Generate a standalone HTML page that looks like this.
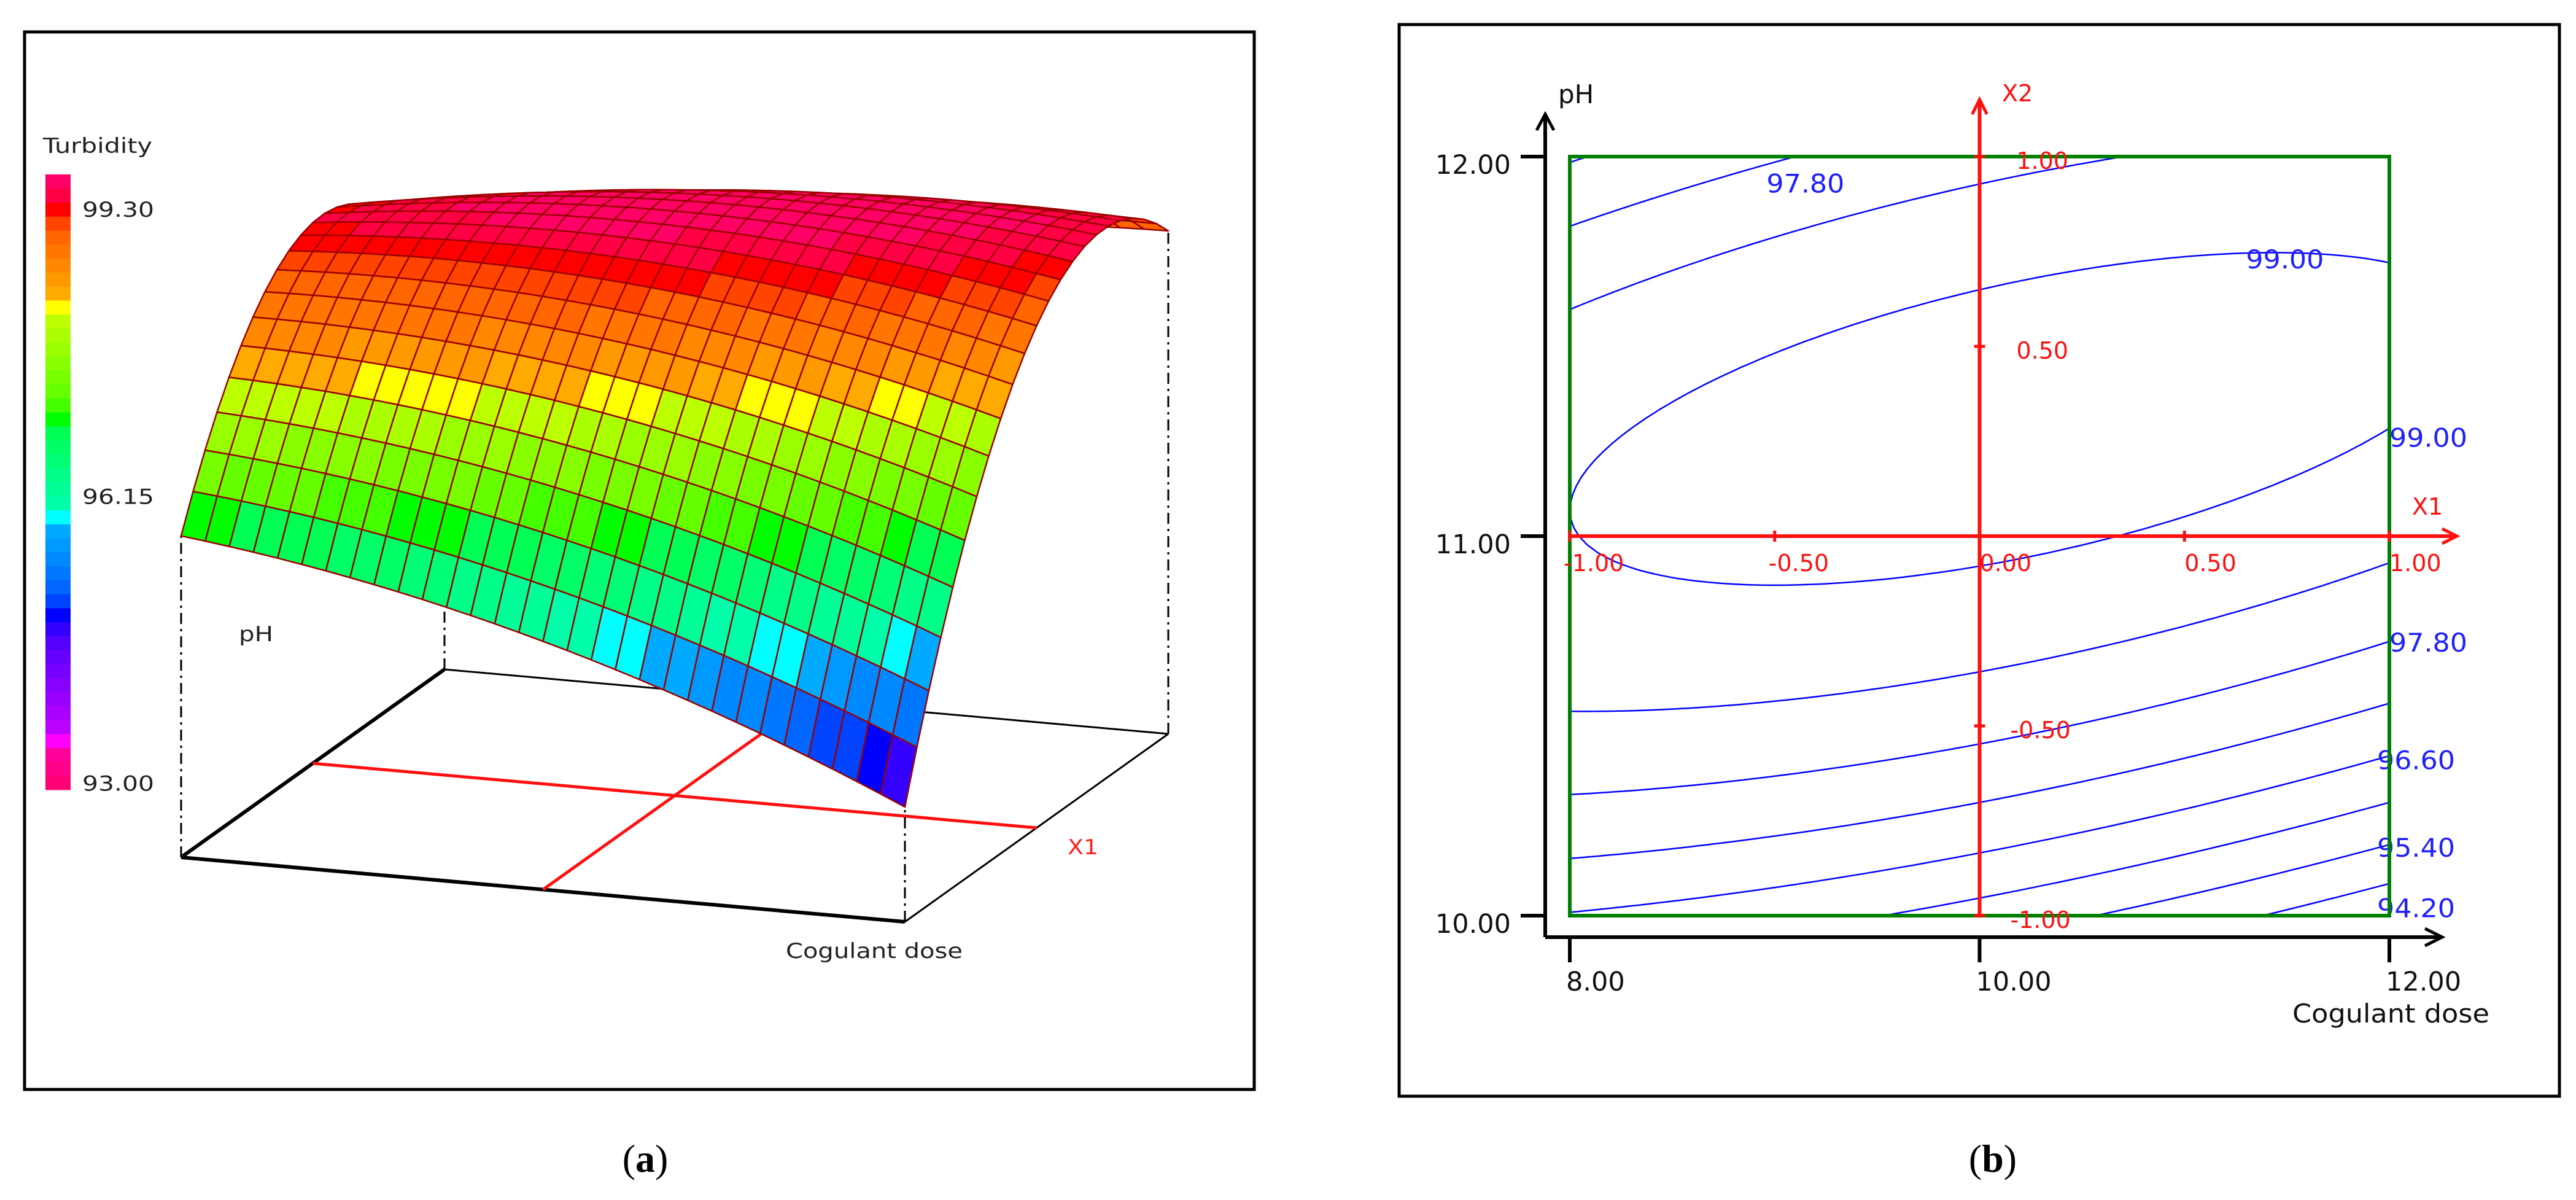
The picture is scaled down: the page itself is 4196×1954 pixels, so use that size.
<!DOCTYPE html>
<html><head><meta charset="utf-8"><style>
html,body{margin:0;padding:0;background:#fff;}
svg{display:block;}
text{font-family:"DejaVu Sans","Liberation Sans",sans-serif;}
</style></head>
<body>
<svg id="fig" width="4196" height="1954" viewBox="0 0 4196 1954" xmlns="http://www.w3.org/2000/svg">
<rect x="0" y="0" width="4196" height="1954" fill="#fff"/>
<g id="panelA">
<rect x="40" y="52" width="2003" height="1722" fill="none" stroke="#000" stroke-width="5"/>
<text x="70" y="249" font-size="34" textLength="178" lengthAdjust="spacingAndGlyphs" fill="#222">Turbidity</text>
<g id="cbar"></g>
<g id="cbarLabels"></g>
<g id="base"></g>
<g id="surf"></g>
<text x="389" y="1044" font-size="34" textLength="56" lengthAdjust="spacingAndGlyphs" fill="#222">pH</text>
<text x="1280" y="1560" font-size="34" textLength="288" lengthAdjust="spacingAndGlyphs" fill="#222">Cogulant dose</text>
<text x="1739" y="1391" font-size="34" textLength="50" lengthAdjust="spacingAndGlyphs" fill="#ff2020">X1</text>
</g>
<text x="1051" y="1908" font-size="64" text-anchor="middle" style="font-family:'Liberation Serif',serif">(<tspan font-weight="bold">a</tspan>)</text>

<g id="panelB">
<rect x="2279" y="40" width="1890" height="1745" fill="none" stroke="#000" stroke-width="5"/>
<g id="contours"></g>
<g id="axesB"></g>
</g>
<text x="3246" y="1908" font-size="64" text-anchor="middle" style="font-family:'Liberation Serif',serif">(<tspan font-weight="bold">b</tspan>)</text>
</svg>
<script>
// Fitted quadratic model: b0, b1, b2, b11, b22, b12 (coded X1=dose, X2=pH)
const modelCoefs = [99.11, -0.214, 1.22, -0.334, -2.14, 0.93];
// Colorbar palette, from low (93.00) to high (99.30+)
const palette = ["#ff0077","#ff0088","#ff0099","#ff00ff","#bb00ff","#aa00ff","#9900ff","#8800ff","#7700ff","#6600ff","#5500ff","#3300ff","#0000ff","#0044ff","#0066ff","#0077ff","#0088ff","#0099ff","#00aaff","#00ffff","#00ffaa","#00ff99","#00ff88","#00ff77","#00ff66","#00ff55","#00ff00","#44ff00","#66ff00","#77ff00","#88ff00","#99ff00","#aaff00","#bbff00","#ffff00","#ffaa00","#ff9900","#ff8800","#ff7700","#ff6600","#ff4400","#ff0000","#ff0044","#ff0066"];
const colorbarTicks = [99.30, 96.15, 93.00];
const contourLevels = [94.2, 94.8, 95.4, 96.0, 96.6, 97.2, 97.8, 98.4, 99.0];
const contourLabelText = ["97.80","99.00","99.00","97.80","96.60","95.40","94.20"];
const contourLabelX1 = [-0.52, 0.65, 1.0, 1.0, 0.97, 0.97, 0.97];
const contourLabelX2 = [0.93, 0.73, 0.26, -0.28, -0.59, -0.82, -0.98];
const doseTicks = [8, 10, 12];
const phTicks = [10, 11, 12];
const codedTicks = [-1, -0.5, 0, 0.5, 1];

const NS = "http://www.w3.org/2000/svg";
function mk(parent, tag, attrs, txt){const e=document.createElementNS(NS,tag);for(const k in attrs)e.setAttribute(k,attrs[k]);if(txt!==undefined)e.textContent=txt;parent.appendChild(e);return e;}
function Y(x1,x2){const b=modelCoefs;return b[0]+b[1]*x1+b[2]*x2+b[3]*x1*x1+b[4]*x2*x2+b[5]*x1*x2;}
const vMin=92.93, vMax=99.685;
const cellMax=99.30;
function colorOf(v){let i=Math.floor((v-vMin)/(cellMax-vMin)*palette.length);i=Math.max(0,Math.min(palette.length-1,i));return palette[i];}

// ---- colorbar ----
const cb=document.getElementById('cbar');
const cbTop=284, cbBot=1286, cbX=74, cbW=41;
function cbY(v){return cbBot-(v-vMin)/(vMax-vMin)*(cbBot-cbTop);}
palette.forEach((c,i)=>{
 const v0=vMin+i*(vMax-vMin)/palette.length, v1=vMin+(i+1)*(vMax-vMin)/palette.length;
 const r=mk(cb,'rect',{x:cbX,y:cbY(v1),width:cbW,height:cbY(v0)-cbY(v1)+0.5,fill:c});
 
 
});
const cbl=document.getElementById('cbarLabels');
colorbarTicks.forEach(t=>{
 const tx=mk(cbl,'text',{x:134,y:cbY(t)+12,'font-size':34,textLength:117,lengthAdjust:'spacingAndGlyphs',fill:'#222'},t.toFixed(2));
 
 
});

// ---- 3D surface ----
const A={x:295,y:1396},B={x:1474,y:1501},D={x:724,y:1090};
const C={x:B.x+D.x-A.x,y:B.y+D.y-A.y};
const kH=147, zBase=93;
function base(u,v){return {x:A.x+u*(B.x-A.x)+v*(D.x-A.x), y:A.y+u*(B.y-A.y)+v*(D.y-A.y)};}
function P(u,v){const b=base(u,v);return {x:b.x,y:b.y-(Y(2*u-1,2*v-1)-zBase)*kH};}
const bg=document.getElementById('base');
function line(g,p,q,attrs,name){const l=mk(g,'line',Object.assign({x1:p.x,y1:p.y,x2:q.x,y2:q.y},attrs));return l;}
line(bg,D,C,{stroke:'#000','stroke-width':3},'base-back-edge');
line(bg,B,C,{stroke:'#000','stroke-width':3},'base-right-edge');
line(bg,A,B,{stroke:'#000','stroke-width':6},'dose-axis');
line(bg,A,D,{stroke:'#000','stroke-width':6},'ph-axis');
line(bg,base(0,0.5),base(1,0.5),{stroke:'#ff1010','stroke-width':5},'x1-center-line');
line(bg,base(0.5,0),base(0.5,1),{stroke:'#ff1010','stroke-width':5},'x2-center-line');
const dash={stroke:'#000','stroke-width':3,'stroke-dasharray':'18 8 4 8'};
line(bg,A,P(0,0),dash,'corner-drop-line');
line(bg,B,P(1,0),dash,'corner-drop-line');
line(bg,C,P(1,1),dash,'corner-drop-line');
line(bg,D,P(0,1),dash,'corner-drop-line');

const sg=document.getElementById('surf');
const Nu=30, Nv=22;
for(let j=Nv-1;j>=0;j--){
 for(let i=0;i<Nu;i++){
  const u0=i/Nu,u1=(i+1)/Nu,v0=j/Nv,v1=(j+1)/Nv;
  const p=[P(u0,v0),P(u1,v0),P(u1,v1),P(u0,v1)];
  const val=Y(2*((u0+u1)/2)-1,2*((v0+v1)/2)-1);
  const poly=mk(sg,'polygon',{points:p.map(q=>q.x.toFixed(1)+','+q.y.toFixed(1)).join(' '),fill:colorOf(val),stroke:'#9a0000','stroke-width':2.5,'stroke-linejoin':'round'});
  
  
 }
}

// ---- contour plot ----
const gx0=2557,gx1=3892,gy0=255,gy1=1491;
function sx(x1){return gx0+(x1+1)/2*(gx1-gx0);}
function sy(x2){return gy1-(x2+1)/2*(gy1-gy0);}
const cg=document.getElementById('contours');
const N=90;
contourLevels.forEach(L=>{
 let d='';
 const val=(i,j)=>Y(-1+2*i/N,-1+2*j/N)-L;
 for(let i=0;i<N;i++){
  for(let j=0;j<N;j++){
   const c=[[i,j],[i+1,j],[i+1,j+1],[i,j+1]];
   const f=c.map(q=>val(q[0],q[1]));
   const pts=[];
   for(let e=0;e<4;e++){
    const a=f[e],b=f[(e+1)%4];
    if((a<0)!==(b<0)){const t=a/(a-b);const qa=c[e],qb=c[(e+1)%4];
     pts.push([qa[0]+t*(qb[0]-qa[0]),qa[1]+t*(qb[1]-qa[1])]);}
   }
   for(let k=0;k+1<pts.length;k+=2){
    const X=q=>sx(-1+2*q[0]/N).toFixed(1), Yp=q=>sy(-1+2*q[1]/N).toFixed(1);
    d+='M'+X(pts[k])+' '+Yp(pts[k])+'L'+X(pts[k+1])+' '+Yp(pts[k+1]);
   }
  }
 }
 const p=mk(cg,'path',{d:d,stroke:'#0000ff','stroke-width':2.5,fill:'none','stroke-linecap':'round'});
 
 
});
contourLabelText.forEach((t,i)=>{
 const tx=mk(cg,'text',{x:sx(contourLabelX1[i]),y:sy(contourLabelX2[i])+15,'font-size':42,textLength:127,lengthAdjust:'spacingAndGlyphs',fill:'#2020ff'},t);
 
 
});

const ag=document.getElementById('axesB');
const green=mk(ag,'rect',{x:gx0,y:gy0,width:gx1-gx0,height:gy1-gy0,fill:'none',stroke:'#008000','stroke-width':6});


const axX=2517, axY=1526;
line(ag,{x:axX,y:axY},{x:axX,y:190},{stroke:'#000','stroke-width':6},'y-axis');
line(ag,{x:axX,y:axY},{x:3975,y:axY},{stroke:'#000','stroke-width':6},'x-axis');
let ar=mk(ag,'polyline',{points:`${axX-14},212 ${axX},186 ${axX+14},212`,fill:'none',stroke:'#000','stroke-width':5});


ar=mk(ag,'polyline',{points:`3950,${axY-14} 3978,${axY} 3950,${axY+14}`,fill:'none',stroke:'#000','stroke-width':5});


function phY(p){return sy(p-11);}
function doseX(d){return sx((d-10)/2);}
phTicks.forEach(p=>{
 line(ag,{x:2477,y:phY(p)},{x:axX,y:phY(p)},{stroke:'#000','stroke-width':6},'y-tick');
 const tx=mk(ag,'text',{x:2461,y:phY(p)+28,'font-size':43,'text-anchor':'end',fill:'#111'},p.toFixed(2));
 
 
});
doseTicks.forEach(dv=>{
 line(ag,{x:doseX(dv),y:axY},{x:doseX(dv),y:1567},{stroke:'#000','stroke-width':6},'x-tick');
 const tx=mk(ag,'text',{x:doseX(dv)-6,y:1613,'font-size':43,fill:'#111'},dv.toFixed(2));
 
 
});
let tt=mk(ag,'text',{x:3734,y:1665,'font-size':42,textLength:321,lengthAdjust:'spacingAndGlyphs',fill:'#111'},'Cogulant dose');


tt=mk(ag,'text',{x:2538,y:168,'font-size':42,fill:'#111'},'pH');


const red='#ff1010';
line(ag,{x:gx0,y:sy(0)},{x:4000,y:sy(0)},{stroke:red,'stroke-width':6},'x1-coded-axis');
line(ag,{x:sx(0),y:gy1},{x:sx(0),y:165},{stroke:red,'stroke-width':6},'x2-coded-axis');
ar=mk(ag,'polyline',{points:`3978,${sy(0)-12} 4002,${sy(0)} 3978,${sy(0)+12}`,fill:'none',stroke:red,'stroke-width':5});


ar=mk(ag,'polyline',{points:`${sx(0)-12},186 ${sx(0)},162 ${sx(0)+12},186`,fill:'none',stroke:red,'stroke-width':5});


codedTicks.forEach(t=>{
 line(ag,{x:sx(t),y:sy(0)-9},{x:sx(t),y:sy(0)+9},{stroke:red,'stroke-width':5},'x1-tick');
 line(ag,{x:sx(0)-9,y:sy(t)},{x:sx(0)+9,y:sy(t)},{stroke:red,'stroke-width':5},'x2-tick');
 const l1=mk(ag,'text',{x:sx(t)-(t<0?10:0),y:sy(0)+57,'font-size':38,fill:red},t.toFixed(2));
 
 
 if(t!==0){
  const l2=mk(ag,'text',{x:sx(0)+60-(t<0?10:0),y:sy(t)+20,'font-size':38,fill:red},t.toFixed(2));
  
  
 }
});
tt=mk(ag,'text',{x:3929,y:838,'font-size':38,fill:red},'X1');


tt=mk(ag,'text',{x:3261,y:165,'font-size':38,fill:red},'X2');


</script>
</body></html>
